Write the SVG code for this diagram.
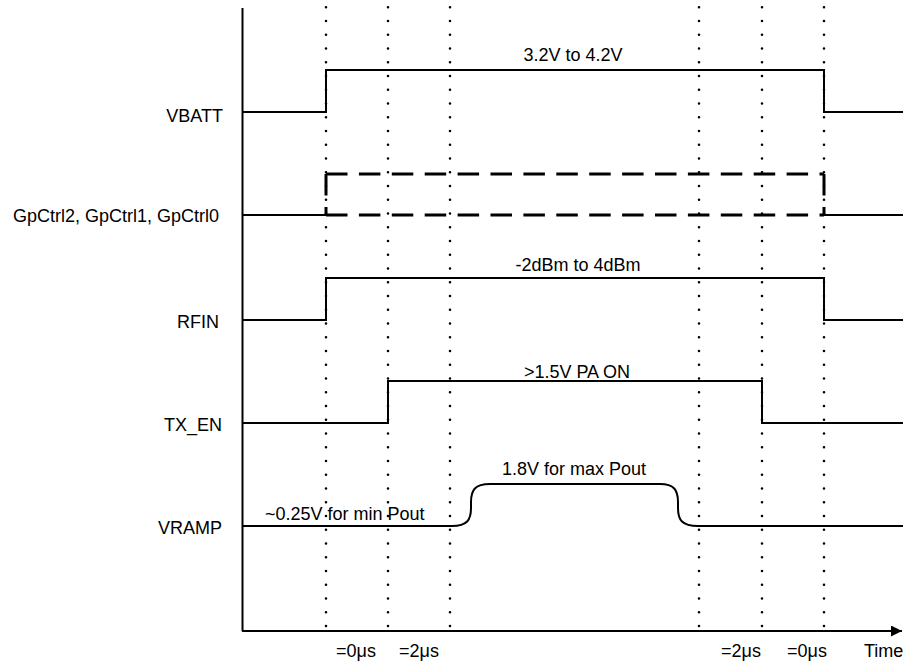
<svg xmlns="http://www.w3.org/2000/svg" width="903" height="664" viewBox="0 0 903 664">
<defs>
<style>
.sig{fill:none;stroke:#000;stroke-width:2;stroke-linejoin:miter}
.dash{fill:none;stroke:#000;stroke-width:3;stroke-dasharray:21.5 11.4}
.dot{fill:none;stroke:#000;stroke-width:2.6;stroke-linecap:round;stroke-dasharray:0 13.75}
.ax{fill:none;stroke:#000;stroke-width:2}
text{font-family:"Liberation Sans",Arial,sans-serif;font-size:18px;fill:#000}
.lbl{text-anchor:end}
.mid{text-anchor:middle}
</style>
<marker id="arr" markerWidth="12" markerHeight="12" refX="11" refY="5.5" orient="auto" markerUnits="userSpaceOnUse">
<path d="M0,0 L11,5.5 L0,11 Z" fill="#000"/>
</marker>
</defs>
<rect width="903" height="664" fill="#fff"/>
<g id="axes">
<path class="ax" d="M242.5,8 V631"/>
<path class="ax" d="M242,631 H902" marker-end="url(#arr)"/>
</g>
<g id="gridlines">
<path class="dot" d="M326,7.3 V632"/>
<path class="dot" d="M388,7.3 V632"/>
<path class="dot" d="M450,7.3 V632"/>
<path class="dot" d="M699,7.3 V632"/>
<path class="dot" d="M762,7.3 V632"/>
<path class="dot" d="M824,7.3 V632"/>
</g>
<g id="connectors">
<g id="vbatt">
<path class="sig" d="M242,112 H326 V70 H824 V112 H903"/>
<text class="lbl" x="223" y="122">VBATT</text>
<text class="mid" x="573" y="61">3.2V to 4.2V</text>
</g>
<g id="gpctrl">
<path class="sig" d="M242,215 H326"/>
<path class="dash" d="M326,174 H824"/>
<path class="dash" d="M326,215 H824"/>
<path class="dash" d="M326,174 V215"/>
<path class="dash" d="M824,174 V215"/>
<path class="sig" d="M824,215 H903"/>
<text class="lbl" x="219" y="222">GpCtrl2, GpCtrl1, GpCtrl0</text>
</g>
<g id="rfin">
<path class="sig" d="M242,320 H326 V278 H824 V320 H903"/>
<text class="lbl" x="219" y="328">RFIN</text>
<text class="mid" x="578" y="271">-2dBm to 4dBm</text>
</g>
<g id="txen">
<path class="sig" d="M242,423 H388 V381 H762 V423 H903"/>
<text class="lbl" x="222" y="431">TX_EN</text>
<text class="mid" x="577" y="378">&gt;1.5V PA ON</text>
</g>
<g id="vramp">
<path class="sig" d="M242,526 H452 C467,526 471,520 471,508 V502 C471,490 475,484 490,484 H660 C674,484 678,490 678,502 V508 C678,520 682,526 698,526 H903"/>
<text class="lbl" x="222" y="534">VRAMP</text>
<text x="265" y="520">~0.25V for min Pout</text>
<text class="mid" x="574" y="475">1.8V for max Pout</text>
</g>
</g>
<g id="timelabels">
<text x="336" y="657">=0μs</text>
<text x="399" y="657">=2μs</text>
<text x="721" y="657">=2μs</text>
<text x="787" y="657">=0μs</text>
<text x="864" y="657">Time</text>
</g>
</svg>
